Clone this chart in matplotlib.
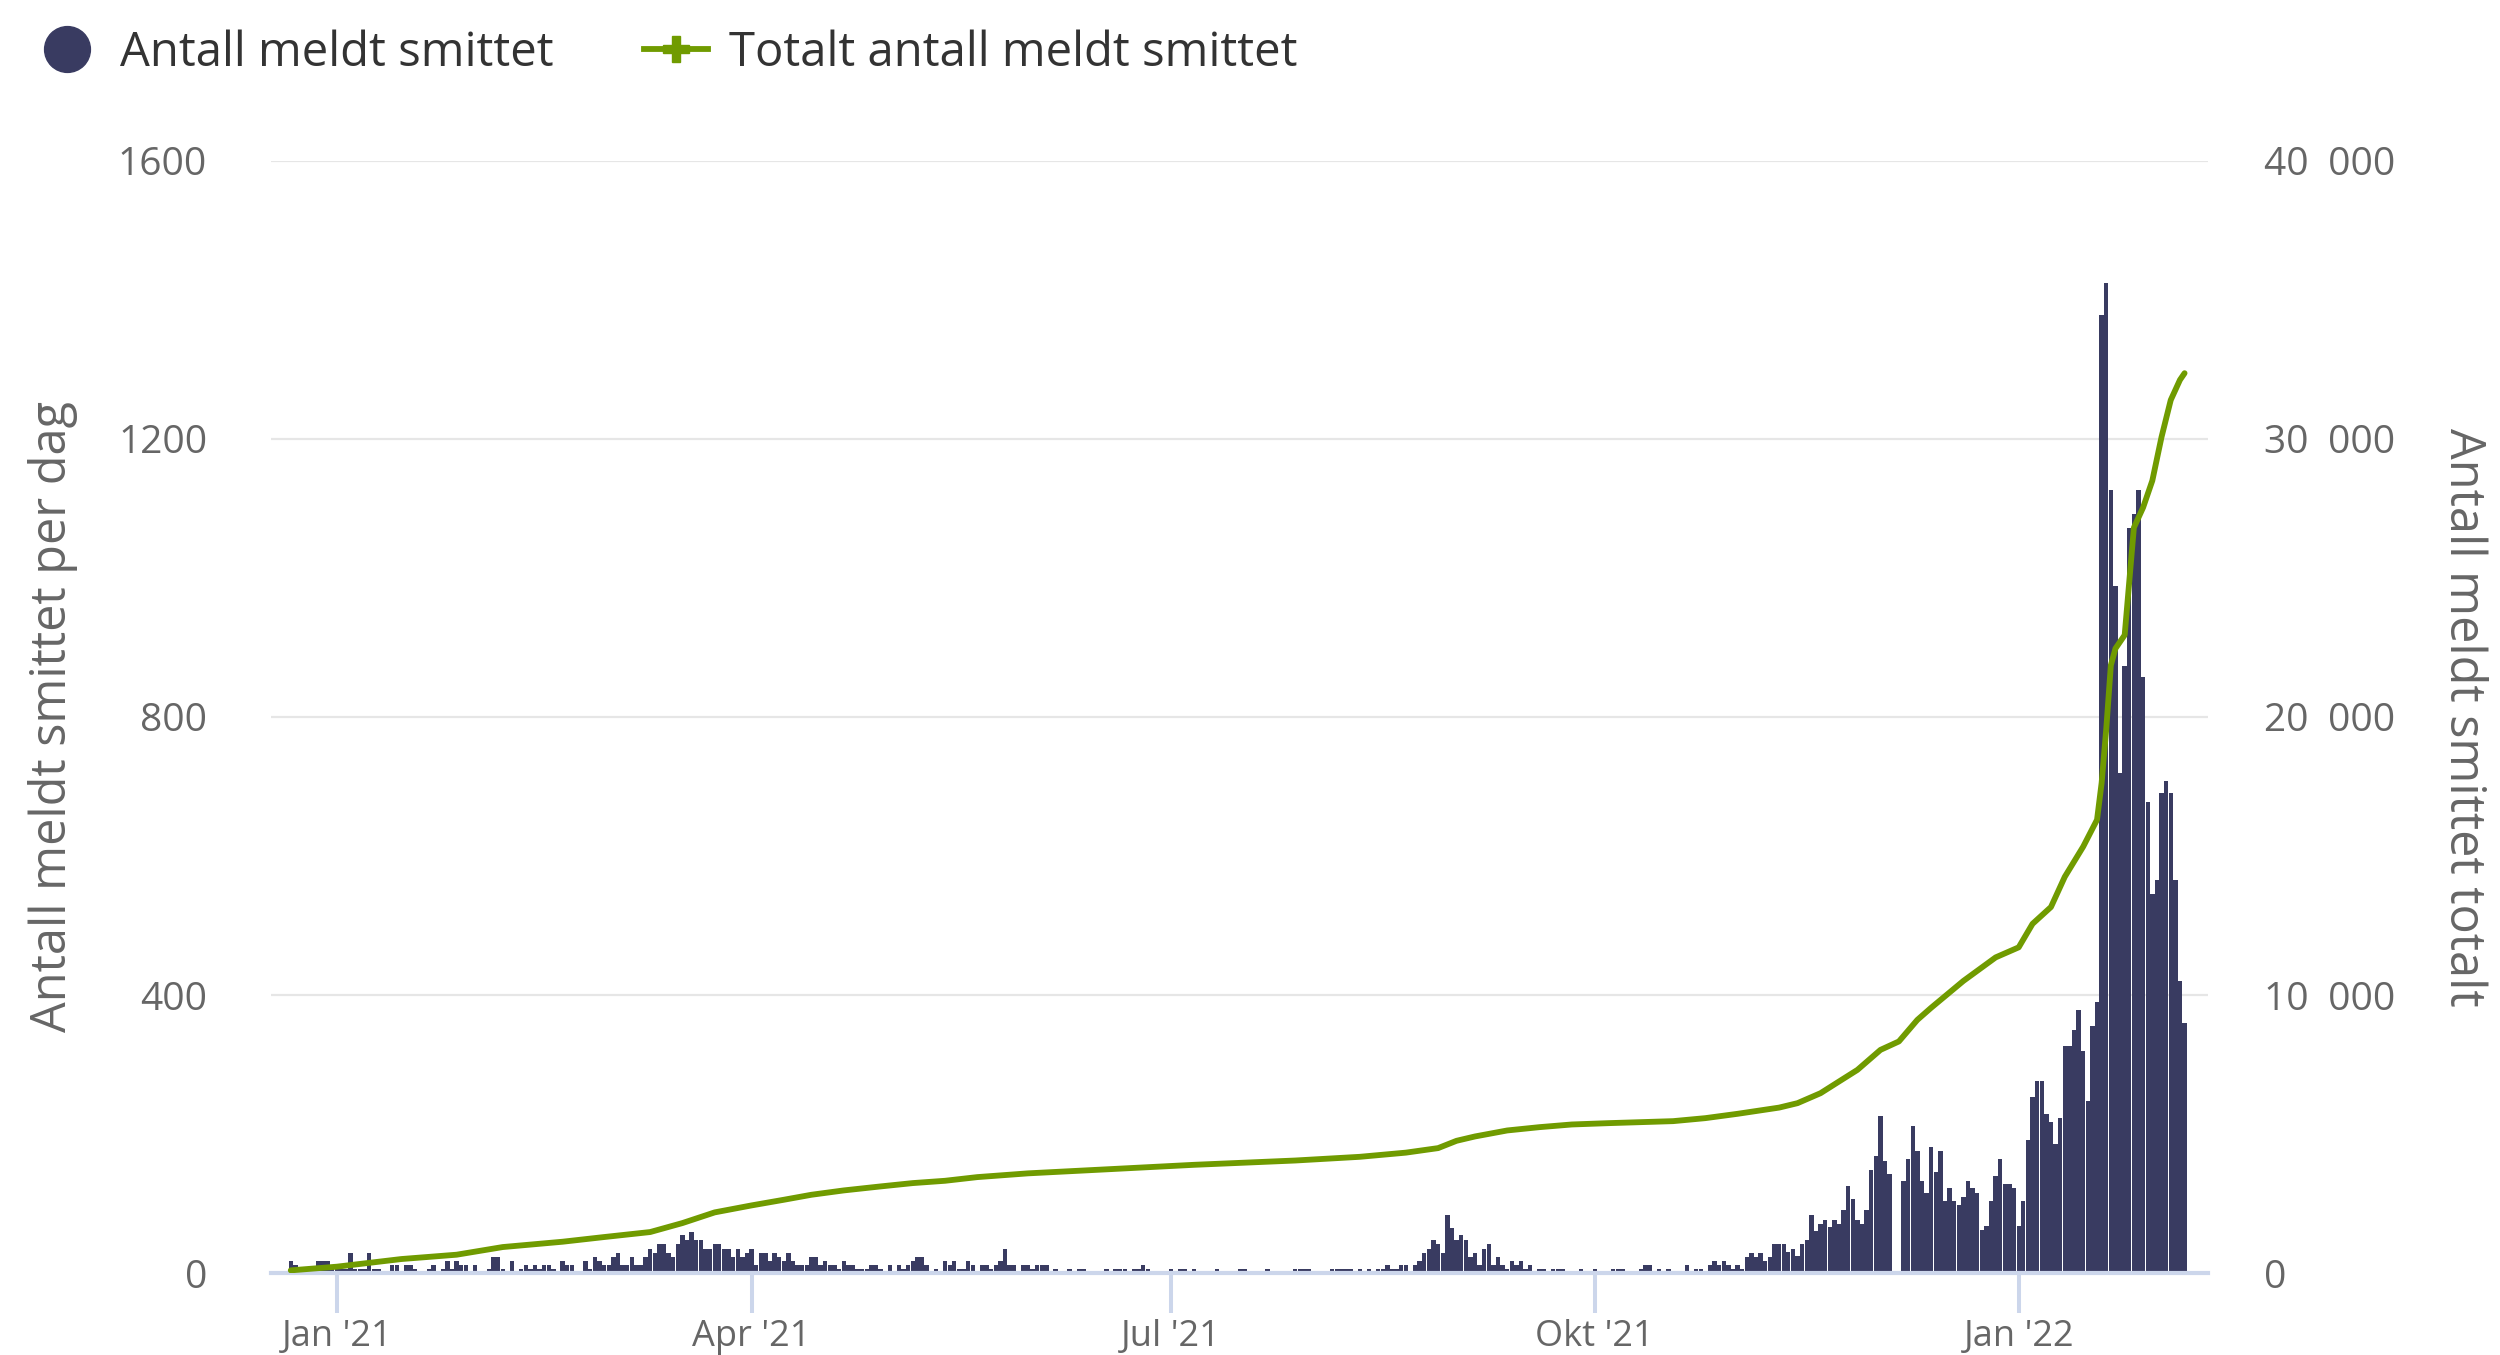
#! /usr/bin/python3

import pandas as pd
import matplotlib
matplotlib.use('Agg')
from matplotlib import pyplot as plt
from matplotlib.lines import Line2D
import matplotlib.ticker as mticker

plt.rcParams['font.family'] = ['Open Sans', 'DejaVu Sans']

########
# DATA #
########

# Daily reported cases ("Antall meldt smittet"), per month
dec_2020 = [18, 12, 6, 0, 0, 6, 18, 18, 18, 6]  # starts 22 Dec
jan_2021 = [6, 6, 6, 29, 6, 6, 6, 29, 6, 6, 0, 0, 12, 12, 0, 12, 12, 6, 0, 0,
            6, 12, 0, 6, 18, 6, 18, 12, 12, 0, 12]
feb_2021 = [0, 0, 6, 23, 23, 6, 0, 18, 0, 6, 12, 6, 12, 6, 12, 12, 6, 0, 18, 12,
            12, 0, 0, 18, 6, 23, 18, 12]
mar_2021 = [12, 23, 29, 12, 12, 23, 12, 12, 23, 35, 29, 42, 42, 29, 23, 42, 54,
            48, 59, 48, 48, 35, 35, 42, 42, 35, 35, 23, 35, 23, 29]
apr_2021 = [35, 12, 29, 29, 18, 29, 23, 18, 29, 18, 12, 12, 12, 23, 23, 12, 18,
            12, 12, 6, 18, 12, 12, 6, 6, 6, 12, 12, 6, 0]
may_2021 = [12, 0, 12, 6, 12, 18, 23, 23, 12, 0, 6, 0, 18, 12, 18, 6, 6, 18, 12,
            0, 12, 12, 6, 12, 18, 35, 12, 12, 0, 12, 12]
jun_2021 = [6, 12, 12, 12, 0, 6, 0, 0, 6, 0, 6, 6, 0, 0, 0, 0, 6, 0, 6, 6, 6, 0,
            6, 6, 12, 6, 0, 0, 0, 0]
jul_2021 = [6, 0, 6, 6, 0, 6, 0, 0, 0, 0, 6, 0, 0, 0, 0, 6, 6, 0, 0, 0, 0, 6, 0,
            0, 0, 0, 0, 6, 6, 6, 6]
aug_2021 = [0, 0, 0, 0, 6, 6, 6, 6, 6, 0, 6, 0, 6, 0, 6, 6, 12, 6, 6, 12, 12, 0,
            12, 18, 29, 35, 48, 42, 29, 84, 65]
sep_2021 = [48, 54, 48, 23, 29, 12, 35, 42, 12, 23, 12, 6, 18, 12, 18, 6, 12, 0,
            6, 6, 0, 6, 6, 6, 0, 0, 0, 6, 0, 0]
oct_2021 = [6, 0, 0, 0, 6, 6, 6, 0, 0, 0, 6, 12, 12, 0, 6, 0, 6, 0, 0, 0, 12, 0,
            6, 6, 0, 12, 18, 12, 18, 12, 6]
nov_2021 = [12, 6, 23, 29, 23, 29, 18, 23, 42, 42, 42, 30, 35, 24, 42, 48, 84,
            60, 71, 77, 66, 77, 71, 90, 125, 107, 77, 71, 90, 148]
dec_2021 = [168, 226, 161, 143, 0, 0, 133, 164, 212, 176, 133, 115, 181, 145,
            176, 103, 122, 103, 98, 109, 133, 122, 115, 62, 68, 103, 139, 164,
            128, 128, 122]
jan_2022 = [68, 103, 192, 253, 276, 276, 229, 217, 186, 223, 326, 326, 349, 379,
            319, 247, 355, 390, 1379, 1425, 1126, 988, 719, 874, 1072, 1092,
            1126, 857, 677, 546, 565]
feb_2022 = [690, 708, 690, 565, 420, 360]  # ends 6 Feb

# Running total ("Totalt antall meldt smittet")
cum_dates = ['2020-12-22', '2021-01-01', '2021-01-15', '2021-01-27',
             '2021-02-06', '2021-02-19', '2021-02-28', '2021-03-10',
             '2021-03-17', '2021-03-24', '2021-04-01', '2021-04-08',
             '2021-04-14', '2021-04-21', '2021-04-29', '2021-05-06',
             '2021-05-13', '2021-05-20', '2021-05-31', '2021-06-18',
             '2021-07-06', '2021-07-28', '2021-08-11', '2021-08-21',
             '2021-08-28', '2021-09-01', '2021-09-05', '2021-09-12',
             '2021-09-19', '2021-09-26', '2021-10-04', '2021-10-11',
             '2021-10-18', '2021-10-25', '2021-11-01', '2021-11-10',
             '2021-11-14', '2021-11-19', '2021-11-23', '2021-11-27',
             '2021-12-02', '2021-12-06', '2021-12-10', '2021-12-13',
             '2021-12-20', '2021-12-27', '2022-01-01', '2022-01-04',
             '2022-01-08', '2022-01-11', '2022-01-15', '2022-01-18',
             '2022-01-19', '2022-01-20', '2022-01-21', '2022-01-22',
             '2022-01-24', '2022-01-25', '2022-01-26', '2022-01-28',
             '2022-01-30', '2022-02-01', '2022-02-03', '2022-02-05',
             '2022-02-06']
cum_values = [96, 228, 503, 659, 934, 1126, 1294, 1474, 1797, 2181, 2432, 2635,
              2815, 2971, 3115, 3235, 3318, 3450, 3585, 3738, 3892, 4047, 4180,
              4330, 4493, 4756, 4912, 5128, 5247, 5343, 5391, 5427, 5463, 5571,
              5727, 5950, 6110, 6469, 6889, 7307, 8026, 8330, 9105, 9541, 10507,
              11353, 11715, 12560, 13164, 14251, 15338, 16304, 17633, 19565,
              21860, 22464, 22947, 24879, 26812, 27536, 28502, 30072, 31401,
              32126, 32367]

tick_dates = ['2021-01-01', '2021-04-01', '2021-07-01', '2021-10-01', '2022-01-01']
tick_labels = ["Jan '21", "Apr '21", "Jul '21", "Okt '21", "Jan '22"]
legend_labels = ['Antall meldt smittet', 'Totalt antall meldt smittet']

daily = (dec_2020 + jan_2021 + feb_2021 + mar_2021 + apr_2021 + may_2021 +
         jun_2021 + jul_2021 + aug_2021 + sep_2021 + oct_2021 + nov_2021 +
         dec_2021 + jan_2022 + feb_2022)
dates = pd.date_range('2020-12-22', '2022-02-06', freq='D')

navy = '#393b61'
green = '#709b00'
grey_txt = '#666666'
axis_col = '#ccd6eb'

########
# PLOT #
########

fig = plt.figure(figsize=(25, 13.55), dpi=100)
ax = fig.add_axes([0.1084, 0.0605, 0.7748, 0.8207])

ax.bar(dates, daily, width=0.95, color=navy, linewidth=0, zorder=2)
ax.set_ylim(0, 1600)
ax.set_xlim(pd.Timestamp('2020-12-17 17:00'), pd.Timestamp('2022-02-11 02:00'))
ax.yaxis.set_major_locator(mticker.MultipleLocator(400))
ax.yaxis.grid(True, color='#e6e6e6', linewidth=1.6)
ax.set_axisbelow(True)

ax.set_xticks(pd.to_datetime(tick_dates))
ax.set_xticklabels(tick_labels)

for s in ['top', 'left', 'right']:
    ax.spines[s].set_visible(False)
ax.spines['bottom'].set_color(axis_col)
ax.spines['bottom'].set_linewidth(3)
ax.spines['bottom'].set_zorder(3)

ax.tick_params(axis='x', length=29, width=2.9, color=axis_col, pad=4,
               labelsize=26, labelcolor=grey_txt)
ax.tick_params(axis='y', length=0, pad=46, labelsize=28, labelcolor=grey_txt)

ax.set_ylabel('Antall meldt smittet per dag', fontsize=35, color=grey_txt,
              va='center')
ax.yaxis.set_label_coords(-0.1125, 0.5)

# Running total on the right axis
ax2 = ax.twinx()
ax2.plot(pd.to_datetime(cum_dates), cum_values, color=green, linewidth=4.2,
         solid_joinstyle='round', solid_capstyle='round', zorder=4)
ax2.set_ylim(0, 40000)
ax2.yaxis.set_major_locator(mticker.MultipleLocator(10000))
ax2.yaxis.set_major_formatter(
    mticker.FuncFormatter(lambda v, p: f'{int(v):,}'.replace(',', '\u2002')))
for s in ['top', 'left', 'right', 'bottom']:
    ax2.spines[s].set_visible(False)
ax2.tick_params(axis='y', length=0, pad=40, labelsize=28, labelcolor=grey_txt)
ax2.set_ylabel('Antall meldt smittet totalt', fontsize=35, color=grey_txt,
               rotation=270, va='center')
ax2.yaxis.set_label_coords(1.1317, 0.5)

# Legend across the top
handles = [Line2D([], [], ls='none', marker='o', markersize=33, color=navy),
           Line2D([], [], color=green, linewidth=4.2, marker='P',
                  markersize=19)]
fig.legend(handles, legend_labels, loc='center left',
           bbox_to_anchor=(0.014, 0.961), ncol=2, frameon=False, fontsize=34,
           labelcolor='#333333', borderpad=0, borderaxespad=0,
           handlelength=1.36, handletextpad=0.45, columnspacing=1.9)

plt.savefig('out.png', dpi=100)
plt.close()
